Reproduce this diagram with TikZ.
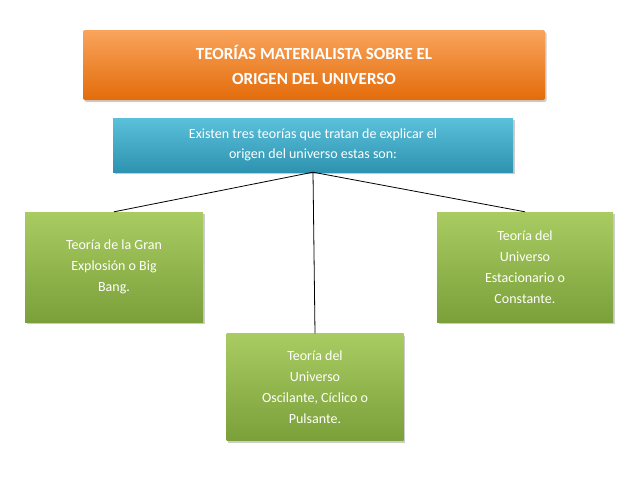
\documentclass[tikz,border=0pt]{standalone}
\usepackage{fontspec}
\setmainfont{Carlito}
\usetikzlibrary{shadows}
\definecolor{orangetop}{HTML}{F9A45C}
\definecolor{orangebot}{HTML}{E36C0A}
\definecolor{bluetop}{HTML}{5BC0DA}
\definecolor{bluebot}{HTML}{2E93B0}
\definecolor{greentop}{HTML}{A9CB62}
\definecolor{greenbot}{HTML}{7BA03A}
\tikzset{
  box/.style={rounded corners=2pt, text=white, align=center, inner sep=2pt,
    drop shadow={shadow xshift=1.5pt, shadow yshift=-2pt, fill=black!40}},
  titlebox/.style={box, top color=orangetop, bottom color=orangebot, font=\bfseries\fontsize{17}{25}\selectfont},
  infobox/.style={box, top color=bluetop, bottom color=bluebot, rounded corners=0pt, font=\fontsize{14}{20}\selectfont},
  leafbox/.style={box, top color=greentop, bottom color=greenbot, rounded corners=0pt, font=\fontsize{14}{21}\selectfont}
}
\begin{document}
\begin{tikzpicture}[x=1pt,y=-1pt]
  \useasboundingbox (0,0) rectangle (638,479);
  \node[titlebox, minimum width=462, minimum height=70] (title) at (314,65)
    {TEORÍAS MATERIALISTA SOBRE EL\\ORIGEN DEL UNIVERSO};
  \node[infobox, minimum width=400, minimum height=54] (info) at (313,145)
    {Existen tres teorías que tratan de explicar el\\origen del universo estas son:};
  \node[leafbox, minimum width=178, minimum height=110] (gran) at (114,267)
    {Teoría de la Gran\\Explosión o Big\\Bang.};
  \node[leafbox, minimum width=176, minimum height=110] (estac) at (525,267)
    {Teoría del\\Universo\\Estacionario o\\Constante.};
  \node[leafbox, minimum width=177, minimum height=107] (oscil) at (315,387)
    {Teoría del\\Universo\\Oscilante, Cíclico o\\Pulsante.};
  \coordinate (hub) at (info.south);
  \draw[thick] (hub) -- (gran.north);
  \draw[thick] (hub) -- (estac.north);
  \draw[thick] (hub) -- (oscil.north);
\end{tikzpicture}
\end{document}
